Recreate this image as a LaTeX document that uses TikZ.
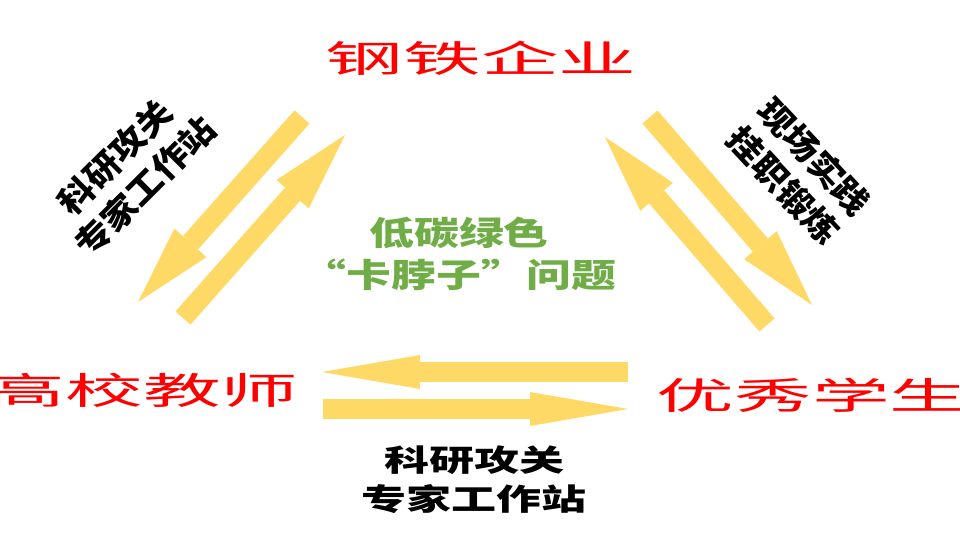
\documentclass[tikz,border=0pt]{standalone}
\usepackage{fontspec}
\newfontfamily\cjk{Noto Sans CJK SC}
\usetikzlibrary{arrows.meta}
\definecolor{gold}{RGB}{255,217,102}
\definecolor{leaf}{RGB}{112,173,71}
\tikzset{
  party/.style={text=red, font=\cjk\fontsize{37}{40}\selectfont, xscale=2.1, inner sep=0pt},
  link/.style={font=\cjk\bfseries\fontsize{33}{42}\selectfont, align=center, inner sep=0pt},
  flow/.style={draw=gold, line width=20pt, -{Triangle[length=79pt,width=43pt,line width=0pt]}},
  flowlong/.style={draw=gold, line width=20pt, -{Triangle[length=98pt,width=34pt,line width=0pt]}}
}
\begin{document}
\begin{tikzpicture}[x=1pt,y=-1pt]
  \useasboundingbox (0,0) rectangle (960,540);
  % Nodes
  \node[party] (Steel) at (481,58) {钢铁企业};
  \node[party] (Teacher) at (143,390) {高校教师};
  \node[party] (Student) at (812,395) {优秀学生};

  \node[link, text=leaf, xscale=1.36] (Goal) at (459,254) {低碳绿色\\“卡脖子”问题};
  \node[link, xscale=1.5, font=\cjk\bfseries\fontsize{30}{39}\selectfont] (StationB) at (474,480) {科研攻关\\专家工作站};
  \node[link, rotate=45, xscale=1.1] (StationL) at (130,172) {科研攻关\\专家工作站};
  \node[link, rotate=-47, xscale=1.1] (Practice) at (799,171) {现场实践\\挂职锻炼};

  % Arrow ends
  \coordinate (sl1) at (302,117); \coordinate (tl1) at (138,302);
  \coordinate (tl2) at (183,318); \coordinate (sl2) at (345,135);
  \coordinate (sr1) at (650,117); \coordinate (dr1) at (812,305);
  \coordinate (dr2) at (767,325); \coordinate (sr2) at (605,137);
  \coordinate (db1) at (628,372); \coordinate (tb1) at (322,372);
  \coordinate (tb2) at (323,409); \coordinate (db2) at (628,409);

  % Arrows
  \draw[flow] (sl1) -- (tl1);
  \draw[flow] (tl2) -- (sl2);
  \draw[flow] (sr1) -- (dr1);
  \draw[flow] (dr2) -- (sr2);
  \draw[flowlong] (db1) -- (tb1);
  \draw[flowlong] (tb2) -- (db2);
\end{tikzpicture}
\end{document}
